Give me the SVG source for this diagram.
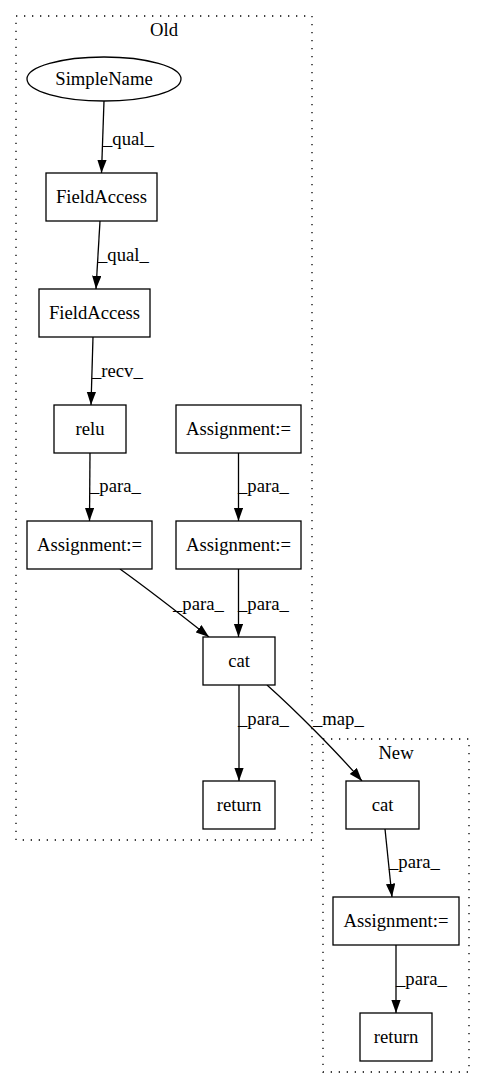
<svg xmlns="http://www.w3.org/2000/svg" width="485" height="1088" viewBox="0 0 485 1088" font-family="'Liberation Serif', 'Times New Roman', serif">
<style>
text{font-size:18.67px;fill:#000}
.n{text-anchor:middle}
.cl{fill:none;stroke:#000;stroke-width:1.3;stroke-dasharray:1.3,6.7}
.box{fill:#fff;stroke:#000;stroke-width:1.3}
.e{fill:none;stroke:#000;stroke-width:1.3;marker-end:url(#ah)}
</style>
<defs>
<marker id="ah" markerUnits="userSpaceOnUse" markerWidth="14" markerHeight="10" refX="13.3" refY="4.7" orient="auto">
<path d="M0,0 L13.3,4.7 L0,9.4 z" fill="#000" stroke="none"/>
</marker>
</defs>
<rect width="485" height="1088" fill="#fff"/>
<g id="cluster_old">
<rect class="cl" x="16" y="16" width="296" height="824"/>
<text class="n" x="164" y="36">Old</text>
</g>
<g id="cluster_new">
<rect class="cl" x="323" y="739" width="146" height="333"/>
<text class="n" x="396" y="759">New</text>
</g>
<g id="edges">
<path class="e" d="M104,101 L101.5,173"/>
<text x="103" y="145">_qual_</text>
<path class="e" d="M100,221 L96,289"/>
<text x="98" y="261">_qual_</text>
<path class="e" d="M93,337 L91,405"/>
<text x="92" y="377">_recv_</text>
<path class="e" d="M90,453 L89.5,521"/>
<text x="90" y="492">_para_</text>
<path class="e" d="M238.5,453 L238.5,521"/>
<text x="238" y="492">_para_</text>
<path class="e" d="M120,569 C145,587 180,614 209,637"/>
<text x="173" y="610">_para_</text>
<path class="e" d="M238.5,569 L238.5,637"/>
<text x="238" y="610">_para_</text>
<path class="e" d="M239,685 L239,781"/>
<text x="238" y="725">_para_</text>
<path class="e" d="M267,685 C295,710 335,750 362,781"/>
<text x="313" y="725">_map_</text>
<path class="e" d="M385,829 L392,897"/>
<text x="389" y="868">_para_</text>
<path class="e" d="M396,945 L396,1013"/>
<text x="396" y="985">_para_</text>
</g>
<g id="n_simplename">
<ellipse class="box" cx="104" cy="79" rx="77" ry="22"/>
<text class="n" x="104" y="85">SimpleName</text>
</g>
<g id="n_fieldaccess1">
<rect class="box" x="46" y="173" width="111" height="48"/>
<text class="n" x="101.5" y="203">FieldAccess</text>
</g>
<g id="n_fieldaccess2">
<rect class="box" x="39" y="289" width="111" height="48"/>
<text class="n" x="94.5" y="319">FieldAccess</text>
</g>
<g id="n_relu">
<rect class="box" x="54" y="405" width="72" height="48"/>
<text class="n" x="90" y="435">relu</text>
</g>
<g id="n_assign_r1">
<rect class="box" x="176" y="405" width="125" height="48"/>
<text class="n" x="238.5" y="435">Assignment:=</text>
</g>
<g id="n_assign_l">
<rect class="box" x="27" y="521" width="125" height="48"/>
<text class="n" x="89.5" y="551">Assignment:=</text>
</g>
<g id="n_assign_r2">
<rect class="box" x="176" y="521" width="125" height="48"/>
<text class="n" x="238.5" y="551">Assignment:=</text>
</g>
<g id="n_cat_old">
<rect class="box" x="203" y="637" width="72" height="48"/>
<text class="n" x="239" y="667">cat</text>
</g>
<g id="n_return_old">
<rect class="box" x="203" y="781" width="72" height="48"/>
<text class="n" x="239" y="811">return</text>
</g>
<g id="n_cat_new">
<rect class="box" x="346" y="781" width="73" height="48"/>
<text class="n" x="382.5" y="811">cat</text>
</g>
<g id="n_assign_new">
<rect class="box" x="333" y="897" width="126" height="48"/>
<text class="n" x="396" y="927">Assignment:=</text>
</g>
<g id="n_return_new">
<rect class="box" x="360" y="1013" width="72" height="48"/>
<text class="n" x="396" y="1043">return</text>
</g>
</svg>
